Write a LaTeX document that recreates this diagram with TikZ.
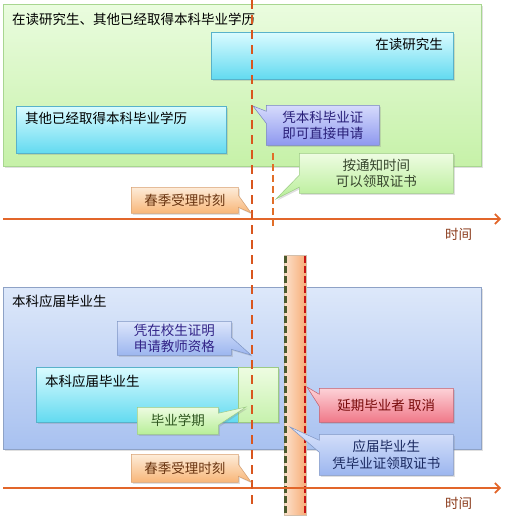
\documentclass[tikz,border=0pt]{standalone}
\usepackage{fontspec}
\setmainfont{Noto Sans CJK SC}
\usetikzlibrary{shapes.callouts,shadows,arrows.meta}
\definecolor{lineor}{HTML}{D9561E}
\definecolor{axisor}{HTML}{E2662A}
\definecolor{gTop}{HTML}{EAFCDF}
\definecolor{gBot}{HTML}{C6F1A8}
\definecolor{gBd}{HTML}{A8D690}
\definecolor{cTop}{HTML}{DAFBFF}
\definecolor{cBot}{HTML}{62DAF0}
\definecolor{cBd}{HTML}{58B2CA}
\definecolor{bTop}{HTML}{DDE8FA}
\definecolor{bBot}{HTML}{A8C1F0}
\definecolor{bBd}{HTML}{8EA2C6}
\definecolor{pTop}{HTML}{D6DBFC}
\definecolor{pBot}{HTML}{8E98EF}
\definecolor{pBd}{HTML}{7882C4}
\definecolor{qTop}{HTML}{DCE5FB}
\definecolor{qBot}{HTML}{9CB6EF}
\definecolor{qBd}{HTML}{7E95C4}
\definecolor{lgTop}{HTML}{EEFCE2}
\definecolor{lgBot}{HTML}{B8EE98}
\definecolor{lgBd}{HTML}{9CCB84}
\definecolor{oTop}{HTML}{FDECD9}
\definecolor{oBot}{HTML}{F8B678}
\definecolor{oBd}{HTML}{D8A070}
\definecolor{rTop}{HTML}{FDD5DA}
\definecolor{rBot}{HTML}{F07888}
\definecolor{rBd}{HTML}{C45E6C}
\tikzset{
  shad/.style={drop shadow={opacity=.25,shadow xshift=1.5pt,shadow yshift=-1.5pt}},
  bigbox/.style={anchor=north west,inner sep=0pt,line width=.6pt},
  cyanbox/.style={bigbox,draw=cBd,top color=cTop,bottom color=cBot,shad},
  co/.style={rectangle callout,anchor=north west,inner sep=0pt,align=center,
     callout pointer width=12pt,line width=.5pt,shad,font=\fontsize{13.5}{16.5}\selectfont},
  cobluep/.style={co,draw=pBd,top color=pTop,bottom color=pBot,text={rgb,255:red,40;green,30;blue,120}},
  coblueq/.style={co,draw=qBd,top color=qTop,bottom color=qBot,text={rgb,255:red,50;green,35;blue,135}},
  cogreen/.style={co,draw=lgBd,top color=lgTop,bottom color=lgBot,text={rgb,255:red,55;green,70;blue,45}},
  coorange/.style={co,draw=oBd,top color=oTop,bottom color=oBot,text={rgb,255:red,105;green,52;blue,16}},
  cored/.style={co,draw=rBd,top color=rTop,bottom color=rBot,text={rgb,255:red,120;green,10;blue,10}},
  coblue/.style={co,draw=qBd,top color=qTop,bottom color=qBot,text={rgb,255:red,25;green,40;blue,95}},
  txt/.style={inner sep=0pt,font=\fontsize{13.5}{16}\selectfont},
  mainline/.style={lineor,line width=2.6pt,dash pattern=on 9pt off 6pt},
  axis/.style={axisor,line width=1.4pt,-{Straight Barb[length=5pt,width=10pt,line width=1.6pt]}},
  timelbl/.style={txt,text={rgb,255:red,138;green,58;blue,26}},
}
\begin{document}
\begin{tikzpicture}[x=1pt,y=-1pt]
\useasboundingbox (0,0) rectangle (512,522);
% ---------- top section ----------
\node[bigbox,draw=gBd,top color=gTop,bottom color=gBot,shad,
      minimum width=478pt,minimum height=162pt] (gbox) at (3,4) {};
\node[txt,anchor=west] (gtitle) at (12,19) {在读研究生、其他已经取得本科毕业学历};
\node[cyanbox,minimum width=242pt,minimum height=47pt] (yjs) at (211,32) {};
\node[txt,anchor=east] (yjst) at (443,44) {在读研究生};
\node[cyanbox,minimum width=210pt,minimum height=47pt] (qt) at (16,106) {};
\node[txt,anchor=west] (qtt) at (25,118) {其他已经取得本科毕业学历};
% axis top
\coordinate (a1s) at (3,219);
\coordinate (a1e) at (501,219);
\draw[axis] (a1s) -- (a1e);
\node[timelbl,anchor=west] (t1) at (445,234) {时间};
% second dashed line
\coordinate (l2t) at (273,153);
\coordinate (l2b) at (273,228);
\draw[color={rgb,255:red,225;green,110;blue,40},line width=2.2pt,dash pattern=on 7pt off 4pt] (l2t) -- (l2b);
% ---------- bottom section ----------
\node[bigbox,draw=bBd,top color=bTop,bottom color=bBot,shad,
      minimum width=478pt,minimum height=162pt] (bbox) at (3,287) {};
\node[txt,anchor=west] (btitle) at (12,301) {本科应届毕业生};
\node[cyanbox,minimum width=242pt,minimum height=55pt] (bk) at (36,367) {};
\node[bigbox,draw=lgBd,top color=lgTop,bottom color=lgBot!80!white,
      minimum width=40pt,minimum height=55pt] (bq) at (238,367) {};
\node[txt,anchor=west] (bkt) at (45,381) {本科应届毕业生};
% orange bar
\shade[left color={rgb,255:red,252;green,226;blue,204},right color={rgb,255:red,247;green,172;blue,118},draw=orange!30!gray!50,line width=.3pt]
  (284,255) rectangle (306,515);
\coordinate (gdt) at (285.5,256);
\coordinate (gdb) at (285.5,515);
\coordinate (rdt) at (305,256);
\coordinate (rdb) at (305,515);
\draw[color={rgb,255:red,75;green,90;blue,45},line width=2.2pt,dash pattern=on 7pt off 3pt] (gdt) -- (gdb);
\draw[color={rgb,255:red,200;green,20;blue,20},line width=2.2pt,dash pattern=on 7pt off 3pt] (rdt) -- (rdb);
% axis bottom
\coordinate (a2s) at (3,488);
\coordinate (a2e) at (501,488);
\draw[axis] (a2s) -- (a2e);
\node[timelbl,anchor=west] (t2) at (445,503) {时间};
% main dashed line
\coordinate (l1t) at (252,0);
\coordinate (l1b) at (252,509);
\draw[mainline] (l1t) -- (l1b);
% ---------- callouts ----------
\coordinate (p1) at (253,106);
\coordinate (p2) at (276,199);
\coordinate (p3) at (251,213);
\coordinate (p4) at (251,355);
\coordinate (p5) at (246,407);
\coordinate (p6) at (307,387);
\coordinate (p7) at (290,427);
\coordinate (p8) at (251,482);
\node[cobluep,minimum width=113pt,minimum height=40pt,callout absolute pointer={(p1)}] (c1) at (266,105) {凭本科毕业证\\即可直接申请};
\node[cogreen,minimum width=154pt,minimum height=40pt,callout absolute pointer={(p2)}] (c2) at (299,153) {按通知时间\\可以领取证书};
\node[coorange,minimum width=107pt,minimum height=26pt,callout absolute pointer={(p3)}] (c3) at (131,187) {春季受理时刻};
\node[coblueq,minimum width=114pt,minimum height=34pt,callout absolute pointer={(p4)}] (c4) at (117,321) {凭在校生证明\\申请教师资格};
\node[cogreen,text={rgb,255:red,45;green,85;blue,30},minimum width=81pt,minimum height=27pt,callout absolute pointer={(p5)}] (c5) at (137,407) {毕业学期};
\node[cored,minimum width=134pt,minimum height=34pt,callout absolute pointer={(p6)}] (c6) at (319,388) {延期毕业者 取消};
\node[coblue,minimum width=134pt,minimum height=41pt,callout absolute pointer={(p7)}] (c7) at (319,434) {应届毕业生\\凭毕业证领取证书};
\node[coorange,minimum width=107pt,minimum height=28pt,callout absolute pointer={(p8)}] (c8) at (131,454) {春季受理时刻};
\end{tikzpicture}
\end{document}
